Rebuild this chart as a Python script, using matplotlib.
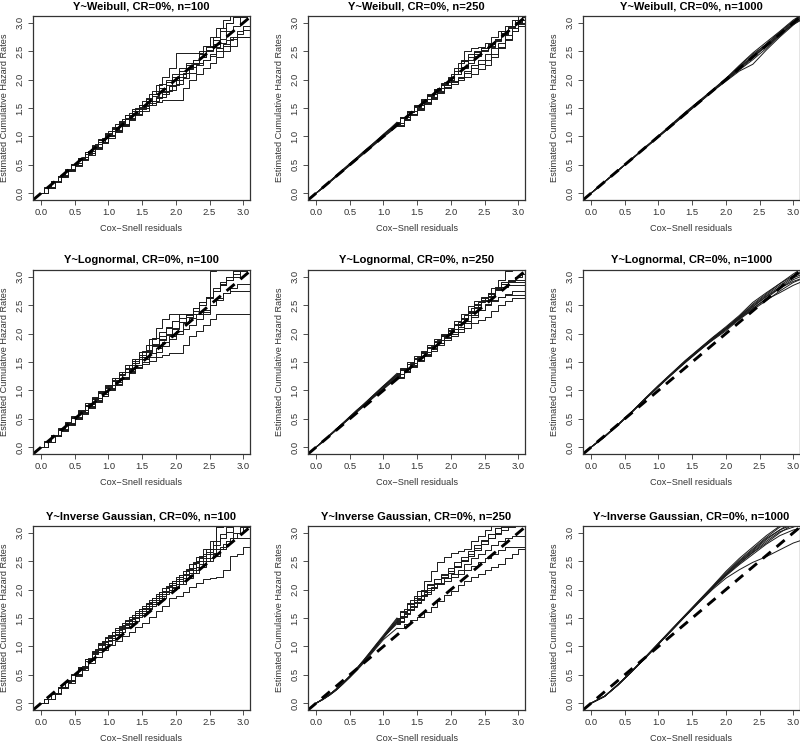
import matplotlib
matplotlib.use("Agg")
import matplotlib.pyplot as plt

plt.rcParams["font.family"] = ["Liberation Sans", "DejaVu Sans"]

# residual grids (Cox-Snell residual values where curves are read)
x_step = [0.0, 0.1, 0.2, 0.3, 0.4, 0.5, 0.6, 0.7, 0.8, 0.9, 1.0, 1.1, 1.2, 1.3, 1.4, 1.5,
          1.6, 1.7, 1.8, 1.9, 2.0, 2.1, 2.2, 2.3, 2.4, 2.5, 2.6, 2.7, 2.8, 2.9, 3.0, 3.1, 3.2]
x_line = [0.0, 0.2, 0.4, 0.6, 0.8, 1.0, 1.2, 1.4, 1.6, 1.8, 2.0, 2.2, 2.4, 2.6, 2.8, 3.0, 3.2]

# estimated cumulative hazard, 8 replicates per panel
weibull_100 = [
    [0, .11, .21, .32, .42, .53, .63, .74, .86, .98, 1.10, 1.22, 1.30, 1.42, 1.50, 1.62, 1.75, 1.90, 2.05, 2.20, 2.47, 2.47, 2.47, 2.47, 2.60, 2.75, 2.90, 3.05, 3.20, 3.20, 3.20, 3.20, 3.20],
    [0, .10, .20, .30, .40, .50, .61, .72, .83, .93, 1.04, 1.14, 1.25, 1.38, 1.48, 1.55, 1.65, 1.75, 1.85, 1.95, 2.10, 2.20, 2.30, 2.35, 2.50, 2.60, 2.75, 2.90, 3.00, 3.10, 3.20, 3.20, 3.20],
    [0, .09, .19, .29, .39, .48, .58, .67, .77, .88, .98, 1.08, 1.18, 1.28, 1.38, 1.45, 1.55, 1.60, 1.64, 1.64, 1.64, 1.85, 2.00, 2.10, 2.20, 2.30, 2.40, 2.50, 2.60, 2.75, 2.75, 2.75, 2.75],
    [0, .10, .21, .31, .41, .51, .62, .72, .82, .93, 1.03, 1.13, 1.23, 1.32, 1.42, 1.52, 1.62, 1.72, 1.80, 1.90, 2.00, 2.10, 2.20, 2.28, 2.40, 2.52, 2.62, 2.72, 2.85, 2.95, 3.10, 3.20, 3.20],
    [0, .10, .19, .30, .40, .49, .60, .70, .80, .91, 1.01, 1.10, 1.20, 1.30, 1.40, 1.50, 1.58, 1.68, 1.78, 1.88, 2.00, 2.12, 2.22, 2.30, 2.35, 2.45, 2.55, 2.62, 2.75, 2.85, 2.88, 2.88, 2.88],
    [0, .11, .21, .31, .42, .52, .62, .73, .84, .95, 1.06, 1.17, 1.27, 1.38, 1.45, 1.55, 1.68, 1.80, 1.92, 2.00, 2.05, 2.15, 2.25, 2.35, 2.45, 2.58, 2.70, 2.85, 3.00, 3.10, 3.20, 3.20, 3.20],
    [0, .10, .20, .30, .40, .50, .60, .71, .81, .91, 1.02, 1.12, 1.22, 1.33, 1.44, 1.54, 1.63, 1.70, 1.75, 1.82, 1.92, 2.02, 2.12, 2.25, 2.35, 2.42, 2.50, 2.60, 2.72, 2.80, 2.95, 3.05, 3.20],
    [0, .09, .20, .29, .39, .49, .59, .69, .79, .90, 1.00, 1.10, 1.20, 1.30, 1.40, 1.48, 1.55, 1.62, 1.70, 1.80, 1.90, 2.05, 2.18, 2.30, 2.40, 2.50, 2.58, 2.65, 2.70, 2.75, 2.75, 2.75, 2.75],
]
weibull_250 = [
    [0, .10, .20, .31, .41, .52, .62, .72, .82, .93, 1.03, 1.13, 1.24, 1.35, 1.45, 1.55, 1.65, 1.75, 1.85, 1.95, 2.10, 2.30, 2.50, 2.55, 2.58, 2.65, 2.75, 2.85, 2.95, 3.05, 3.15, 3.20, 3.20],
    [0, .10, .20, .30, .40, .50, .61, .71, .81, .91, 1.01, 1.12, 1.22, 1.32, 1.43, 1.53, 1.63, 1.73, 1.83, 1.92, 2.00, 2.15, 2.35, 2.45, 2.50, 2.55, 2.62, 2.72, 2.82, 2.95, 3.05, 3.15, 3.20],
    [0, .09, .19, .29, .39, .49, .59, .69, .79, .89, .99, 1.08, 1.18, 1.28, 1.38, 1.47, 1.57, 1.66, 1.76, 1.85, 1.93, 2.00, 2.05, 2.10, 2.18, 2.25, 2.40, 2.55, 2.70, 2.85, 2.95, 3.05, 3.10],
    [0, .10, .21, .31, .42, .52, .62, .73, .83, .93, 1.04, 1.14, 1.25, 1.35, 1.45, 1.55, 1.65, 1.74, 1.84, 1.94, 2.02, 2.10, 2.20, 2.30, 2.42, 2.52, 2.62, 2.72, 2.85, 2.95, 3.05, 3.10, 3.10],
    [0, .10, .20, .30, .40, .50, .60, .70, .80, .90, 1.00, 1.10, 1.20, 1.30, 1.40, 1.50, 1.60, 1.70, 1.80, 1.90, 1.98, 2.05, 2.15, 2.25, 2.35, 2.45, 2.55, 2.65, 2.78, 2.90, 3.00, 3.05, 3.05],
    [0, .10, .20, .30, .41, .51, .61, .71, .81, .92, 1.02, 1.12, 1.22, 1.33, 1.43, 1.52, 1.62, 1.71, 1.81, 1.90, 2.00, 2.10, 2.22, 2.35, 2.48, 2.55, 2.60, 2.70, 2.80, 2.92, 3.02, 3.10, 3.15],
    [0, .09, .19, .29, .39, .49, .59, .69, .79, .89, .99, 1.09, 1.19, 1.29, 1.39, 1.49, 1.58, 1.68, 1.78, 1.87, 1.95, 2.02, 2.12, 2.20, 2.28, 2.35, 2.45, 2.58, 2.72, 2.85, 2.98, 3.10, 3.20],
    [0, .10, .20, .31, .41, .51, .61, .72, .82, .92, 1.02, 1.13, 1.23, 1.34, 1.44, 1.54, 1.64, 1.73, 1.82, 1.91, 2.05, 2.20, 2.32, 2.40, 2.45, 2.50, 2.58, 2.68, 2.80, 2.90, 3.00, 3.05, 3.05],
]
weibull_1000 = [
    [0, .20, .40, .60, .80, 1.01, 1.21, 1.42, 1.62, 1.81, 2.01, 2.24, 2.45, 2.62, 2.82, 3.02, 3.20],
    [0, .20, .40, .60, .80, 1.00, 1.20, 1.40, 1.60, 1.80, 1.98, 2.18, 2.38, 2.60, 2.80, 3.00, 3.15],
    [0, .20, .40, .60, .79, .99, 1.19, 1.39, 1.59, 1.79, 1.97, 2.15, 2.27, 2.52, 2.75, 2.96, 3.15],
    [0, .20, .40, .60, .81, 1.01, 1.22, 1.43, 1.62, 1.82, 2.02, 2.25, 2.47, 2.66, 2.85, 3.05, 3.20],
    [0, .20, .40, .60, .80, 1.00, 1.21, 1.41, 1.61, 1.80, 2.00, 2.20, 2.40, 2.58, 2.78, 2.98, 3.12],
    [0, .20, .40, .59, .79, .99, 1.19, 1.39, 1.59, 1.79, 1.99, 2.17, 2.35, 2.55, 2.77, 3.00, 3.18],
    [0, .20, .40, .60, .80, 1.00, 1.20, 1.41, 1.60, 1.81, 2.01, 2.22, 2.42, 2.63, 2.84, 3.03, 3.20],
    [0, .20, .40, .60, .80, 1.00, 1.20, 1.40, 1.60, 1.80, 2.00, 2.20, 2.41, 2.60, 2.79, 2.97, 3.10],
]
lognormal_100 = [
    [0, .10, .21, .32, .43, .54, .65, .76, .87, .98, 1.10, 1.22, 1.33, 1.45, 1.55, 1.70, 1.90, 2.10, 2.25, 2.35, 2.35, 2.35, 2.35, 2.35, 2.35, 3.10, 3.20, 3.20, 3.20, 3.20, 3.20, 3.20, 3.20],
    [0, .10, .21, .32, .42, .53, .64, .75, .86, .97, 1.08, 1.18, 1.28, 1.40, 1.52, 1.62, 1.72, 1.82, 1.95, 2.10, 2.22, 2.35, 2.35, 2.35, 2.50, 2.65, 2.80, 2.90, 3.00, 3.10, 3.20, 3.20, 3.20],
    [0, .09, .19, .29, .39, .49, .59, .69, .80, .90, 1.00, 1.10, 1.20, 1.30, 1.40, 1.46, 1.52, 1.58, 1.62, 1.65, 1.65, 1.80, 1.95, 2.05, 2.15, 2.25, 2.35, 2.35, 2.35, 2.35, 2.35, 2.35, 2.35],
    [0, .10, .20, .31, .41, .52, .62, .73, .84, .95, 1.05, 1.16, 1.27, 1.38, 1.48, 1.58, 1.70, 1.80, 1.90, 2.00, 2.10, 2.20, 2.30, 2.40, 2.50, 2.62, 2.75, 2.88, 3.00, 3.10, 3.20, 3.20, 3.20],
    [0, .10, .20, .31, .41, .51, .62, .72, .83, .94, 1.04, 1.14, 1.24, 1.34, 1.45, 1.55, 1.65, 1.75, 1.85, 1.95, 2.05, 2.18, 2.28, 2.35, 2.42, 2.50, 2.60, 2.72, 2.80, 2.88, 2.88, 2.88, 2.88],
    [0, .11, .22, .33, .44, .55, .66, .77, .88, .99, 1.10, 1.21, 1.32, 1.44, 1.56, 1.68, 1.80, 1.92, 2.02, 2.12, 2.22, 2.28, 2.35, 2.45, 2.55, 2.65, 2.75, 2.85, 2.95, 3.05, 3.15, 3.20, 3.20],
    [0, .10, .20, .30, .40, .50, .60, .71, .81, .91, 1.02, 1.12, 1.22, 1.32, 1.42, 1.50, 1.58, 1.68, 1.78, 1.90, 2.00, 2.08, 2.15, 2.25, 2.38, 2.50, 2.62, 2.72, 2.75, 2.75, 2.75, 2.75, 2.75],
    [0, .10, .21, .31, .42, .52, .63, .74, .85, .96, 1.06, 1.17, 1.28, 1.38, 1.48, 1.58, 1.68, 1.78, 1.88, 1.98, 2.08, 2.20, 2.32, 2.45, 2.55, 2.65, 2.75, 2.85, 2.95, 3.00, 3.10, 3.20, 3.20],
]
lognormal_250 = [
    [0, .10, .21, .32, .42, .53, .64, .75, .86, .97, 1.08, 1.18, 1.28, 1.38, 1.48, 1.58, 1.68, 1.78, 1.88, 1.98, 2.08, 2.20, 2.32, 2.45, 2.55, 2.65, 2.80, 2.95, 3.10, 3.20, 3.20, 3.20, 3.20],
    [0, .10, .21, .31, .42, .52, .63, .74, .85, .95, 1.06, 1.16, 1.26, 1.36, 1.46, 1.55, 1.65, 1.75, 1.85, 1.95, 2.05, 2.15, 2.25, 2.38, 2.50, 2.60, 2.70, 2.80, 2.90, 2.95, 2.95, 2.95, 2.95],
    [0, .10, .20, .31, .41, .51, .61, .71, .82, .92, 1.02, 1.12, 1.22, 1.32, 1.42, 1.52, 1.60, 1.70, 1.80, 1.88, 1.95, 2.02, 2.10, 2.18, 2.24, 2.30, 2.40, 2.50, 2.58, 2.62, 2.62, 2.62, 2.62],
    [0, .10, .21, .32, .43, .54, .65, .75, .86, .97, 1.08, 1.19, 1.30, 1.40, 1.50, 1.60, 1.70, 1.80, 1.90, 2.00, 2.10, 2.22, 2.35, 2.48, 2.58, 2.65, 2.72, 2.78, 2.82, 2.85, 2.85, 2.85, 2.85],
    [0, .10, .20, .31, .41, .52, .62, .73, .83, .94, 1.04, 1.14, 1.24, 1.34, 1.44, 1.54, 1.64, 1.74, 1.84, 1.94, 2.02, 2.12, 2.22, 2.32, 2.42, 2.50, 2.58, 2.65, 2.70, 2.75, 2.75, 2.75, 2.75],
    [0, .10, .21, .31, .42, .53, .63, .74, .85, .96, 1.07, 1.17, 1.27, 1.37, 1.47, 1.57, 1.67, 1.77, 1.87, 1.97, 2.07, 2.17, 2.27, 2.37, 2.47, 2.57, 2.67, 2.77, 2.87, 2.92, 3.00, 3.05, 3.05],
    [0, .10, .20, .30, .41, .51, .62, .72, .83, .93, 1.03, 1.13, 1.23, 1.33, 1.43, 1.53, 1.63, 1.73, 1.83, 1.92, 2.00, 2.08, 2.18, 2.30, 2.42, 2.52, 2.60, 2.65, 2.68, 2.68, 2.68, 2.68, 2.68],
    [0, .10, .21, .32, .42, .53, .64, .74, .85, .96, 1.06, 1.16, 1.26, 1.36, 1.46, 1.56, 1.66, 1.76, 1.86, 1.96, 2.06, 2.16, 2.28, 2.40, 2.52, 2.62, 2.72, 2.82, 2.88, 2.90, 2.90, 2.90, 2.90],
]
lognormal_1000 = [
    [0, .19, .40, .62, .85, 1.08, 1.30, 1.52, 1.72, 1.92, 2.10, 2.30, 2.50, 2.68, 2.85, 3.00, 3.12],
    [0, .18, .39, .61, .84, 1.07, 1.29, 1.50, 1.70, 1.88, 2.05, 2.25, 2.42, 2.58, 2.75, 2.90, 3.00],
    [0, .19, .40, .62, .86, 1.09, 1.31, 1.53, 1.73, 1.93, 2.12, 2.32, 2.55, 2.72, 2.88, 3.05, 3.20],
    [0, .18, .39, .61, .84, 1.06, 1.28, 1.49, 1.69, 1.89, 2.07, 2.27, 2.45, 2.60, 2.72, 2.85, 2.95],
    [0, .19, .40, .62, .85, 1.08, 1.30, 1.51, 1.71, 1.91, 2.09, 2.28, 2.47, 2.65, 2.80, 2.95, 3.05],
    [0, .18, .39, .61, .85, 1.07, 1.29, 1.51, 1.72, 1.92, 2.10, 2.30, 2.52, 2.70, 2.88, 3.02, 3.15],
    [0, .19, .40, .62, .85, 1.08, 1.30, 1.52, 1.71, 1.90, 2.08, 2.26, 2.44, 2.62, 2.80, 2.92, 3.00],
    [0, .19, .40, .61, .84, 1.07, 1.29, 1.50, 1.70, 1.90, 2.08, 2.29, 2.48, 2.66, 2.82, 2.98, 3.08],
]
invgauss_100 = [
    [0, .08, .18, .29, .40, .52, .65, .80, .95, 1.10, 1.20, 1.32, 1.42, 1.52, 1.62, 1.72, 1.82, 1.92, 2.02, 2.12, 2.22, 2.32, 2.45, 2.58, 2.72, 2.85, 3.10, 3.20, 3.20, 3.20, 3.20, 3.20, 3.20],
    [0, .08, .18, .28, .39, .51, .63, .77, .92, 1.06, 1.15, 1.25, 1.35, 1.45, 1.55, 1.65, 1.75, 1.85, 1.95, 2.05, 2.15, 2.25, 2.35, 2.48, 2.60, 2.72, 2.85, 2.98, 3.10, 3.20, 3.20, 3.20, 3.20],
    [0, .07, .16, .26, .36, .47, .58, .70, .82, .94, 1.02, 1.10, 1.18, 1.26, 1.34, 1.42, 1.52, 1.62, 1.72, 1.85, 1.88, 1.95, 2.05, 2.12, 2.18, 2.20, 2.22, 2.35, 2.60, 2.62, 2.75, 2.75, 2.75],
    [0, .08, .17, .27, .38, .50, .62, .75, .89, 1.02, 1.10, 1.20, 1.30, 1.40, 1.50, 1.58, 1.68, 1.78, 1.88, 1.95, 2.05, 2.15, 2.25, 2.35, 2.45, 2.55, 2.65, 2.75, 2.85, 2.90, 2.90, 2.90, 2.90],
    [0, .08, .18, .28, .39, .51, .64, .78, .93, 1.08, 1.18, 1.28, 1.38, 1.48, 1.58, 1.68, 1.78, 1.88, 1.98, 2.08, 2.18, 2.28, 2.38, 2.50, 2.62, 2.72, 3.10, 3.20, 3.20, 3.20, 3.20, 3.20, 3.20],
    [0, .07, .17, .27, .37, .49, .61, .74, .86, .98, 1.05, 1.15, 1.25, 1.35, 1.45, 1.55, 1.65, 1.75, 1.85, 1.95, 2.02, 2.10, 2.20, 2.30, 2.40, 2.50, 2.60, 2.72, 2.85, 3.00, 3.10, 3.20, 3.20],
    [0, .08, .18, .28, .39, .50, .62, .76, .90, 1.04, 1.12, 1.22, 1.32, 1.42, 1.52, 1.62, 1.72, 1.82, 1.92, 2.00, 2.10, 2.20, 2.30, 2.40, 2.50, 2.62, 2.72, 2.80, 2.90, 3.00, 3.10, 3.10, 3.10],
    [0, .08, .17, .28, .39, .50, .63, .77, .91, 1.05, 1.16, 1.26, 1.36, 1.46, 1.56, 1.66, 1.76, 1.86, 1.96, 2.06, 2.16, 2.26, 2.36, 2.46, 2.56, 2.66, 2.78, 2.90, 3.02, 3.12, 3.20, 3.20, 3.20],
]
invgauss_250 = [
    [0, .07, .15, .25, .36, .48, .61, .75, .90, 1.05, 1.20, 1.35, 1.50, 1.65, 1.82, 1.98, 2.15, 2.32, 2.48, 2.58, 2.65, 2.68, 2.72, 2.85, 2.95, 3.05, 3.15, 3.20, 3.20, 3.20, 3.20, 3.20, 3.20],
    [0, .07, .15, .24, .35, .47, .59, .73, .87, 1.02, 1.17, 1.32, 1.46, 1.60, 1.74, 1.86, 1.98, 2.08, 2.18, 2.28, 2.38, 2.48, 2.58, 2.68, 2.78, 2.88, 2.98, 3.08, 3.15, 3.20, 3.20, 3.20, 3.20],
    [0, .07, .14, .23, .34, .45, .57, .70, .84, .98, 1.12, 1.22, 1.32, 1.40, 1.46, 1.52, 1.60, 1.70, 1.80, 1.90, 1.98, 2.08, 2.15, 2.22, 2.28, 2.35, 2.40, 2.45, 2.55, 2.62, 2.72, 2.78, 2.78],
    [0, .07, .15, .25, .36, .47, .60, .74, .88, 1.03, 1.18, 1.33, 1.48, 1.62, 1.76, 1.88, 2.00, 2.10, 2.18, 2.25, 2.32, 2.40, 2.50, 2.60, 2.70, 2.80, 2.90, 2.98, 3.05, 3.10, 3.20, 3.20, 3.20],
    [0, .07, .15, .25, .35, .47, .60, .73, .87, 1.01, 1.15, 1.30, 1.44, 1.58, 1.72, 1.84, 1.95, 2.05, 2.12, 2.20, 2.28, 2.35, 2.45, 2.55, 2.62, 2.70, 2.78, 2.85, 2.90, 2.95, 2.95, 2.95, 2.95],
    [0, .07, .15, .24, .35, .47, .59, .73, .88, 1.03, 1.16, 1.28, 1.40, 1.52, 1.64, 1.76, 1.88, 2.00, 2.10, 2.20, 2.30, 2.40, 2.50, 2.60, 2.70, 2.80, 2.90, 3.00, 3.10, 3.20, 3.20, 3.20, 3.20],
    [0, .06, .14, .23, .34, .46, .59, .72, .86, 1.00, 1.15, 1.29, 1.43, 1.57, 1.70, 1.82, 1.92, 2.02, 2.10, 2.16, 2.22, 2.28, 2.35, 2.42, 2.48, 2.55, 2.62, 2.70, 2.75, 2.75, 2.75, 2.75, 2.75],
    [0, .07, .15, .25, .36, .48, .61, .75, .89, 1.04, 1.17, 1.30, 1.42, 1.54, 1.66, 1.78, 1.90, 2.02, 2.12, 2.22, 2.32, 2.42, 2.52, 2.62, 2.74, 2.86, 2.98, 3.08, 3.15, 3.20, 3.20, 3.20, 3.20],
]
invgauss_1000 = [
    [0, .12, .33, .56, .80, 1.05, 1.30, 1.55, 1.80, 2.05, 2.30, 2.52, 2.72, 2.92, 3.10, 3.20, 3.20],
    [0, .12, .32, .55, .79, 1.04, 1.29, 1.54, 1.78, 2.02, 2.25, 2.46, 2.65, 2.82, 3.00, 3.15, 3.20],
    [0, .12, .32, .55, .79, 1.04, 1.28, 1.53, 1.77, 2.00, 2.20, 2.35, 2.48, 2.58, 2.70, 2.82, 2.90],
    [0, .12, .33, .56, .80, 1.05, 1.30, 1.55, 1.79, 2.04, 2.28, 2.50, 2.70, 2.90, 3.05, 3.20, 3.20],
    [0, .12, .32, .55, .79, 1.04, 1.29, 1.54, 1.79, 2.03, 2.26, 2.47, 2.66, 2.85, 3.02, 3.10, 3.20],
    [0, .12, .33, .56, .81, 1.06, 1.31, 1.56, 1.81, 2.06, 2.32, 2.55, 2.75, 2.95, 3.12, 3.20, 3.20],
    [0, .12, .32, .55, .79, 1.04, 1.29, 1.54, 1.78, 2.02, 2.24, 2.44, 2.62, 2.80, 2.95, 3.05, 3.10],
    [0, .12, .33, .56, .80, 1.05, 1.30, 1.54, 1.79, 2.04, 2.27, 2.49, 2.68, 2.88, 3.05, 3.15, 3.20],
]

distributions = ["Weibull", "Lognormal", "Inverse Gaussian"]
sample_sizes = [100, 250, 1000]
panels = [
    [weibull_100, weibull_250, weibull_1000],
    [lognormal_100, lognormal_250, lognormal_1000],
    [invgauss_100, invgauss_250, invgauss_1000],
]
ticks = [0.0, 0.5, 1.0, 1.5, 2.0, 2.5, 3.0]

# grid index where the curves switch from smooth to visible jumps
step_from = {100: 0, 250: 12}
step_styles = ["steps-post", "steps-mid"]

W, H = 800, 743
fig = plt.figure(figsize=(W / 100, H / 100), dpi=100)

col_left = [33, 308, 583]
row_top = [16, 270, 526]
ax_w, ax_h = 217, 184
line_kw = dict(color="#1a1a1a", linewidth=0.7)

for r, dist in enumerate(distributions):
    for c, n in enumerate(sample_sizes):
        ax = fig.add_axes([col_left[c] / W, (H - row_top[r] - ax_h) / H, ax_w / W, ax_h / H])
        curves = panels[r][c]
        if n == 1000:
            for y in curves:
                ax.plot(x_line, y, **line_kw)
        else:
            k = step_from[n]
            for i, y in enumerate(curves):
                if k > 0:
                    ax.plot(x_step[:k + 1], y[:k + 1], **line_kw)
                ax.plot(x_step[k:], y[k:], drawstyle=step_styles[i % 2], **line_kw)
        ax.axline((0, 0), slope=1, color="black", linewidth=2.1, dashes=(3.6, 2.6))

        ax.set_xlim(-0.12, 3.1)
        ax.set_ylim(-0.12, 3.12)
        ax.set_xticks(ticks)
        ax.set_yticks(ticks)
        ax.set_xticklabels([f"{t:.1f}" for t in ticks])
        ax.set_yticklabels([f"{t:.1f}" for t in ticks], rotation=90, va="center")
        ax.tick_params(direction="out", length=3.5, width=0.6, labelsize=6.8,
                       colors="#333333", pad=2.5)
        for sp in ax.spines.values():
            sp.set_linewidth(0.9)
            sp.set_color("#333333")
        ax.set_xlabel("Cox\u2212Snell residuals", fontsize=6.6, color="#333333", labelpad=5)
        ax.set_ylabel("Estimated Cumulative Hazard Rates", fontsize=6.6, color="#333333", labelpad=5)
        ax.set_title(f"Y~{dist}, CR=0%, n={n}", fontsize=8, fontweight="bold", pad=5)

fig.savefig("out.png", dpi=100)
